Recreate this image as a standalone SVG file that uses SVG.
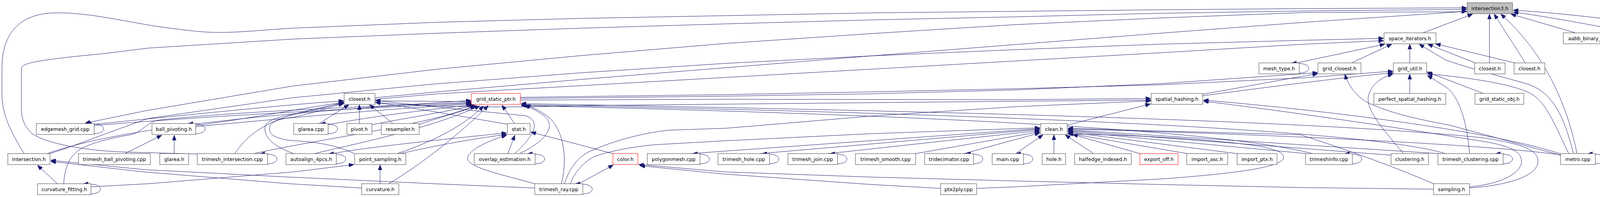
<svg xmlns="http://www.w3.org/2000/svg" width="4448" height="504" viewBox="0 0 4448 504">
<defs>
<marker id="ah" markerWidth="13" markerHeight="10" refX="13" refY="5" orient="auto" markerUnits="userSpaceOnUse">
<path d="M0,0 L13,5 L0,10 z" fill="#191970" stroke="#191970" stroke-width="1"/>
</marker>
<style>
.n rect{fill:#ffffff;stroke:#404040;stroke-width:1}
.n.red rect{stroke:#ff0000}
.n.root rect{fill:#bfbfbf}
.n text{font-family:"DejaVu Sans","Liberation Sans",sans-serif;font-size:12.6px;text-anchor:middle;fill:#000000}
#edges path{fill:none;stroke:#191970;stroke-width:1;marker-end:url(#ah)}
</style>
</defs>
<rect width="4448" height="504" fill="#ffffff"/>
<g id="edges">
<path d="M3643,84 L3770,36"/>
<path d="M3813,161 L3813,36"/>
<path d="M3905,161 L3825,36"/>
<path d="M4037,393 C4015,280 3960,140 3842,36"/>
<path d="M4033,84 L3868,36"/>
<path d="M4186,85 C4080,65 3960,42 3874,31"/>
<path d="M4352,84 C4200,55 3980,32 3874,26"/>
<path d="M62,393 C25,335 5,290 5,240 L5,175 C5,85 50,35 140,33 C230,31 330,58 420,70 C480,78 520,83 560,83 C620,83 680,76 750,72 L1120,57 L1490,47 L1860,40 L2230,33 L2600,29 L2970,25 L3340,22 L3755,20"/>
<path d="M128,393 C200,370 300,330 380,303 L750,250 L1110,215 L1490,186 L1860,162 L2230,143 L2600,114 L2970,85 L3340,57 L3755,29"/>
<path d="M505,394 L320,389 C230,386 120,370 80,340 C60,320 55,300 55,280 L55,175 C55,160 110,152 267,137 L380,123 L750,100 L1120,85 L1490,72 L1860,61 L2230,51 L2600,43 L2970,34 L3340,28 L3755,24"/>
<path d="M3755,30 L3340,32 L2970,46 L2600,63 L2230,86 L1860,111 L1490,142 L1120,177 L750,220 L380,282 L218,315"/>
<path d="M960,250 L1120,235 L1490,203 L1860,173 L2230,143 L2600,127 L2970,113 L3340,103 L3542,98"/>
<path d="M960,254 L1120,240 L1490,219 L1860,198 L2230,177 L2600,156 L2970,135 L3340,113 L3542,104"/>
<path d="M3460,161 L3563,113"/>
<path d="M3609,161 L3609,113"/>
<path d="M3320,161 L3545,113"/>
<path d="M3777,161 L3655,113"/>
<path d="M3878,161 L3675,112"/>
<path d="M4028,393 C4005,300 3975,235 3910,215 C3850,197 3760,175 3700,153 L3633,113"/>
<path d="M3609,239 L3609,190"/>
<path d="M3593,393 C3540,330 3490,275 3505,240 C3515,210 3540,198 3566,189"/>
<path d="M3797,239 L3653,184"/>
<path d="M3762,393 C3755,300 3730,240 3700,222 C3685,212 3670,202 3654,193"/>
<path d="M4016,393 C3985,330 3962,268 3925,243 C3885,218 3780,200 3654,189"/>
<path d="M3995,397 L3710,320 C3630,305 3560,290 3500,262 C3470,245 3450,215 3443,190"/>
<path d="M3079,241 C3200,220 3300,200 3373,189"/>
<path d="M3079,245 C3250,222 3450,197 3566,186"/>
<path d="M1332,249 L1860,242 L2230,235 L2600,227 L2970,217 L3340,199 L3566,182"/>
<path d="M1332,252 L1860,246 L2230,240 L2600,230 L2970,214 L3373,186"/>
<path d="M2732,320 L2945,266"/>
<path d="M1332,256 L1860,254 L2600,255 L2946,252"/>
<path d="M960,262 C1100,275 1300,276 1500,270 L2600,259 L2946,256"/>
<path d="M241,318 C500,292 750,266 880,258"/>
<path d="M501,321 C650,302 780,275 880,262"/>
<path d="M817,316 L893,268"/>
<path d="M920,316 L920,268"/>
<path d="M1006,316 L946,268"/>
<path d="M1299,318 C1150,292 1050,275 961,262"/>
<path d="M1318,393 C1370,345 1385,308 1345,296 C1200,282 1060,268 961,257"/>
<path d="M601,393 C650,320 720,293 880,264"/>
<path d="M907,393 C860,370 800,362 750,360 C705,355 690,345 690,330 C690,312 710,305 750,300 C800,290 850,272 880,265"/>
<path d="M752,393 C705,376 677,355 678,327 C680,310 705,300 750,293 C800,284 850,270 880,261"/>
<path d="M960,258 L1206,260"/>
<path d="M241,321 C600,292 950,276 1206,264"/>
<path d="M501,324 C800,296 1000,278 1207,266"/>
<path d="M840,319 C950,298 1100,280 1210,268"/>
<path d="M952,319 C1050,300 1150,285 1215,269"/>
<path d="M1073,318 C1120,302 1180,287 1220,270"/>
<path d="M1317,316 L1285,269"/>
<path d="M805,393 C900,370 1100,330 1228,271"/>
<path d="M1017,393 C1090,368 1180,330 1238,271"/>
<path d="M995,470 C1080,420 1180,340 1250,270"/>
<path d="M650,393 C820,355 1100,320 1216,270"/>
<path d="M1330,393 C1400,360 1425,320 1392,296 C1375,283 1358,275 1342,270"/>
<path d="M1437,470 C1455,400 1440,330 1405,300 C1385,285 1368,276 1345,268"/>
<path d="M163,470 C166,430 175,405 200,385 C230,365 290,352 333,345 C360,340 372,318 400,308 C600,285 950,272 1206,262"/>
<path d="M120,393 C250,350 450,305 1206,257"/>
<path d="M3762,481 C3880,472 3937,445 3937,413 C3937,385 3905,370 3800,353 C3300,300 2000,278 1334,265"/>
<path d="M3700,393 C3500,330 2500,290 1334,268"/>
<path d="M3360,393 C3100,325 2200,290 1334,270"/>
<path d="M1767,393 L2662,329"/>
<path d="M1945,393 L2662,331"/>
<path d="M2120,393 L2662,334"/>
<path d="M2344,393 L2662,337"/>
<path d="M2467,393 L2662,340"/>
<path d="M2600,393 L2670,345"/>
<path d="M2698,393 L2698,345"/>
<path d="M2800,393 L2727,345"/>
<path d="M2918,393 L2746,344"/>
<path d="M3040,393 L2734,341"/>
<path d="M3167,393 L2734,338"/>
<path d="M3345,393 L2734,336"/>
<path d="M3561,397 L2734,334"/>
<path d="M3684,393 L2734,332"/>
<path d="M3995,396 C3800,370 3300,345 2734,330"/>
<path d="M3672,471 C3600,440 3500,400 3330,345 C3100,338 2900,334 2734,328"/>
<path d="M2500,482 L2600,478 L2970,458 C3150,445 3270,430 3285,407 C3290,390 3270,385 3230,375 C3100,355 2900,345 2734,343"/>
<path d="M1460,470 C1470,440 1500,410 1523,400 C1560,387 1620,375 1680,370 L1860,360 L2230,342 L2662,327"/>
<path d="M1445,470 C1458,430 1480,398 1520,383 C1560,365 1640,340 1713,333 L1860,328 L2230,297 L2600,273 L2946,258"/>
<path d="M3762,478 C3850,470 3895,440 3895,413 C3895,385 3860,370 3767,357 C3600,330 3300,285 3081,259"/>
<path d="M3996,394 C3850,345 3500,292 3081,256"/>
<path d="M1569,393 L1490,372 L1359,338"/>
<path d="M850,393 C950,375 1150,355 1297,340"/>
<path d="M1025,393 C1100,376 1200,356 1297,344"/>
<path d="M1375,472 C1300,450 1200,430 1197,407 C1195,385 1250,360 1297,346"/>
<path d="M1300,393 L1318,346"/>
<path d="M320,393 L414,346"/>
<path d="M446,393 L446,346"/>
<path d="M147,470 L96,423"/>
<path d="M926,481 L740,470 L370,440 L130,413"/>
<path d="M1369,481 L1110,470 L740,453 L370,434 L130,410"/>
<path d="M233,478 L380,470 L750,440 L906,421"/>
<path d="M973,470 L973,422"/>
<path d="M1482,470 L1570,422"/>
<path d="M3670,484 L3340,480 L2970,472 L2600,463 L2230,453 L1860,440 L1635,421"/>
<path d="M2408,482 L2230,472 L1850,445 L1638,424"/>
<path d="M241,342 C255,342 265,337 265,330 C265,321 253,316 221,316.5"/>
<path d="M501,342 C515,342 525,337 525,330 C525,321 513,316 481,316.5"/>
<path d="M840,342 C854,342 864,337 864,330 C864,321 852,316 820,316.5"/>
<path d="M685,419 C699,419 709,414 709,407 C709,398 697,393 665,393.5"/>
<path d="M861,419 C875,419 885,414 885,407 C885,398 873,393 841,393.5"/>
<path d="M1370,419 C1384,419 1394,414 1394,407 C1394,398 1382,393 1350,393.5"/>
<path d="M1792,419 C1806,419 1816,414 1816,407 C1816,398 1804,393 1772,393.5"/>
<path d="M1970,419 C1984,419 1994,414 1994,407 C1994,398 1982,393 1950,393.5"/>
<path d="M2144,419 C2158,419 2168,414 2168,407 C2168,398 2156,393 2124,393.5"/>
<path d="M2492,419 C2506,419 2516,414 2516,407 C2516,398 2504,393 2472,393.5"/>
<path d="M2620,419 C2634,419 2644,414 2644,407 C2644,398 2632,393 2600,393.5"/>
<path d="M3462,419 C3476,419 3486,414 3486,407 C3486,398 3474,393 3442,393.5"/>
<path d="M3848,419 C3862,419 3872,414 3872,407 C3872,398 3860,393 3828,393.5"/>
<path d="M4084,419 C4098,419 4108,414 4108,407 C4108,398 4096,393 4064,393.5"/>
<path d="M233,496 C247,496 257,491 257,484 C257,475 245,470 213,470.5"/>
<path d="M1492,496 C1506,496 1516,491 1516,484 C1516,475 1504,470 1472,470.5"/>
<path d="M3326,187 C3340,187 3350,182 3350,175 C3350,166 3338,161 3306,161.5"/>
<path d="M4304,110 C4318,110 4328,105 4328,98 C4328,89 4316,84 4284,84.5"/>
</g>
<g id="n_i3" class="n root"><rect x="3756" y="7" width="116" height="28"/><text x="3814" y="25.5">intersection3.h</text></g>
<g id="n_si" class="n"><rect x="3543" y="84" width="133" height="28"/><text x="3609.5" y="102.5">space_iterators.h</text></g>
<g id="n_aabb" class="n"><rect x="4002" y="84" width="161" height="28"/><text x="4082.5" y="102.5">aabb_binary_tree.cpp</text></g>
<g id="n_trackmode" class="n"><rect x="4186" y="84" width="118" height="28"/><text x="4245" y="102.5">trackmode.cpp</text></g>
<g id="n_trackutils" class="n"><rect x="4352" y="84" width="92" height="28"/><text x="4398" y="102.5">trackutils.h</text></g>
<g id="n_meshtype" class="n"><rect x="3223" y="161" width="103" height="28"/><text x="3274.5" y="179.5">mesh_type.h</text></g>
<g id="n_gridclosest" class="n"><rect x="3374" y="161" width="110" height="28"/><text x="3429" y="179.5">grid_closest.h</text></g>
<g id="n_gridutil" class="n"><rect x="3567" y="161" width="85" height="28"/><text x="3609.5" y="179.5">grid_util.h</text></g>
<g id="n_closest_a" class="n"><rect x="3775" y="161" width="78" height="28"/><text x="3814" y="179.5">closest.h</text></g>
<g id="n_closest_b" class="n"><rect x="3876" y="161" width="79" height="28"/><text x="3915.5" y="179.5">closest.h</text></g>
<g id="n_closest_c" class="n"><rect x="881" y="239" width="79" height="28"/><text x="920.5" y="257.5">closest.h</text></g>
<g id="n_gsp" class="n red"><rect x="1207" y="239" width="125" height="28"/><text x="1269.5" y="257.5">grid_static_ptr.h</text></g>
<g id="n_sh" class="n"><rect x="2947" y="239" width="132" height="28"/><text x="3013" y="257.5">spatial_hashing.h</text></g>
<g id="n_psh" class="n"><rect x="3517" y="239" width="184" height="28"/><text x="3609" y="257.5">perfect_spatial_hashing.h</text></g>
<g id="n_gso" class="n"><rect x="3776" y="239" width="125" height="28"/><text x="3838.5" y="257.5">grid_static_obj.h</text></g>
<g id="n_edgemesh" class="n"><rect x="93" y="316" width="148" height="28"/><text x="167" y="334.5">edgemesh_grid.cpp</text></g>
<g id="n_ballpiv" class="n"><rect x="389" y="316" width="112" height="28"/><text x="445" y="334.5">ball_pivoting.h</text></g>
<g id="n_glareacpp" class="n"><rect x="752" y="316" width="88" height="28"/><text x="796" y="334.5">glarea.cpp</text></g>
<g id="n_pivot" class="n"><rect x="888" y="316" width="64" height="28"/><text x="920" y="334.5">pivot.h</text></g>
<g id="n_resampler" class="n"><rect x="976" y="316" width="97" height="28"/><text x="1024.5" y="334.5">resampler.h</text></g>
<g id="n_stat" class="n"><rect x="1299" y="316" width="58" height="28"/><text x="1328" y="334.5">stat.h</text></g>
<g id="n_clean" class="n"><rect x="2664" y="316" width="68" height="28"/><text x="2698" y="334.5">clean.h</text></g>
<g id="n_intersection" class="n"><rect x="20" y="393" width="108" height="28"/><text x="74" y="411.5">intersection.h</text></g>
<g id="n_tbp" class="n"><rect x="201" y="393" width="184" height="28"/><text x="293" y="411.5">trimesh_ball_pivoting.cpp</text></g>
<g id="n_glareah" class="n"><rect x="409" y="393" width="74" height="28"/><text x="446" y="411.5">glarea.h</text></g>
<g id="n_tint" class="n"><rect x="505" y="393" width="180" height="28"/><text x="595" y="411.5">trimesh_intersection.cpp</text></g>
<g id="n_autoalign" class="n"><rect x="732" y="393" width="129" height="28"/><text x="796.5" y="411.5">autoalign_4pcs.h</text></g>
<g id="n_pointsamp" class="n"><rect x="908" y="393" width="131" height="28"/><text x="973.5" y="411.5">point_sampling.h</text></g>
<g id="n_overlap" class="n"><rect x="1214" y="393" width="156" height="28"/><text x="1292" y="411.5">overlap_estimation.h</text></g>
<g id="n_color" class="n red"><rect x="1569" y="393" width="64" height="28"/><text x="1601" y="411.5">color.h</text></g>
<g id="n_polygon" class="n"><rect x="1657" y="393" width="135" height="28"/><text x="1724.5" y="411.5">polygonmesh.cpp</text></g>
<g id="n_holecpp" class="n"><rect x="1838" y="393" width="132" height="28"/><text x="1904" y="411.5">trimesh_hole.cpp</text></g>
<g id="n_join" class="n"><rect x="2017" y="393" width="127" height="28"/><text x="2080.5" y="411.5">trimesh_join.cpp</text></g>
<g id="n_smooth" class="n"><rect x="2190" y="393" width="154" height="28"/><text x="2267" y="411.5">trimesh_smooth.cpp</text></g>
<g id="n_trideci" class="n"><rect x="2367" y="393" width="125" height="28"/><text x="2429.5" y="411.5">tridecimator.cpp</text></g>
<g id="n_main" class="n"><rect x="2540" y="393" width="80" height="28"/><text x="2580" y="411.5">main.cpp</text></g>
<g id="n_hole" class="n"><rect x="2668" y="393" width="60" height="28"/><text x="2698" y="411.5">hole.h</text></g>
<g id="n_halfedge" class="n"><rect x="2751" y="393" width="145" height="28"/><text x="2823.5" y="411.5">halfedge_indexed.h</text></g>
<g id="n_exportoff" class="n red"><rect x="2918" y="393" width="98" height="28"/><text x="2967" y="411.5">export_off.h</text></g>
<g id="n_importasc" class="n"><rect x="3038" y="393" width="105" height="28"/><text x="3090.5" y="411.5">import_asc.h</text></g>
<g id="n_importptx" class="n"><rect x="3167" y="393" width="102" height="28"/><text x="3218" y="411.5">import_ptx.h</text></g>
<g id="n_trimeshinfo" class="n"><rect x="3342" y="393" width="120" height="28"/><text x="3402" y="411.5">trimeshinfo.cpp</text></g>
<g id="n_clustering" class="n"><rect x="3561" y="393" width="96" height="28"/><text x="3609" y="411.5">clustering.h</text></g>
<g id="n_tclust" class="n"><rect x="3681" y="393" width="167" height="28"/><text x="3764.5" y="411.5">trimesh_clustering.cpp</text></g>
<g id="n_metro" class="n"><rect x="3995" y="393" width="89" height="28"/><text x="4039.5" y="411.5">metro.cpp</text></g>
<g id="n_curvfit" class="n"><rect x="96" y="470" width="137" height="28"/><text x="164.5" y="488.5">curvature_fitting.h</text></g>
<g id="n_curv" class="n"><rect x="926" y="470" width="95" height="28"/><text x="973.5" y="488.5">curvature.h</text></g>
<g id="n_tray" class="n"><rect x="1369" y="470" width="123" height="28"/><text x="1430.5" y="488.5">trimesh_ray.cpp</text></g>
<g id="n_ptx2ply" class="n"><rect x="2408" y="470" width="92" height="28"/><text x="2454" y="488.5">ptx2ply.cpp</text></g>
<g id="n_sampling" class="n"><rect x="3670" y="470" width="92" height="28"/><text x="3716" y="488.5">sampling.h</text></g>
</svg>
